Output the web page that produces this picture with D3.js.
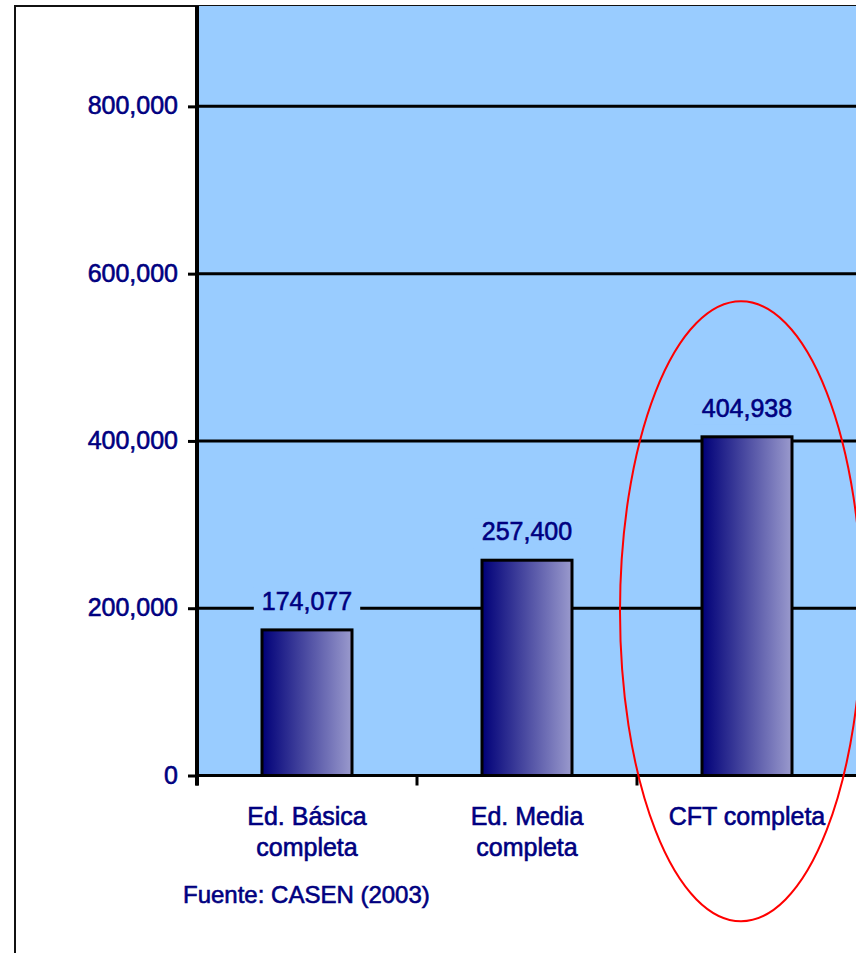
<!DOCTYPE html>
<html>
<head>
<meta charset="utf-8">
<script src="https://cdn.jsdelivr.net/npm/d3@7"></script>
<style>
  body { margin: 0; background: #ffffff; }
  text { font-family: "Liberation Sans", Arial, sans-serif; fill: #000080; stroke: #000080; stroke-width: 0.6px; }
</style>
</head>
<body>
<div id="chart"></div>
<script>
// Data
// ================================
var categories = ["Ed. Básica completa", "Ed. Media completa", "CFT completa"];
var categoryLines = [["Ed. Básica", "completa"], ["Ed. Media", "completa"], ["CFT completa"]];
var values = [174077, 257400, 404938];
var tickValues = [0, 200000, 400000, 600000, 800000];
var sourceNote = "Fuente: CASEN (2003)";

// Set up our chart
// ================================
var svgWidth = 856;
var svgHeight = 953;

var margin = {
  top: 6,
  right: -1,
  bottom: 177.5,
  left: 197,
};

var width = svgWidth - margin.left - margin.right;
var height = svgHeight - margin.top - margin.bottom;

var svg = d3
  .select("#chart")
  .append("svg")
  .attr("width", svgWidth)
  .attr("height", svgHeight);

// bar gradient
var grad = svg
  .append("defs")
  .append("linearGradient")
  .attr("id", "barGrad")
  .attr("x1", "0%")
  .attr("x2", "100%")
  .attr("y1", "0%")
  .attr("y2", "0%");
grad.append("stop").attr("offset", "0%").attr("stop-color", "#000078");
grad.append("stop").attr("offset", "100%").attr("stop-color", "#9a9acd");

// outer frame (left + top)
svg
  .append("path")
  .attr("d", `M15,${svgHeight} L15,6 L${svgWidth},6`)
  .attr("fill", "none")
  .attr("stroke", "#111")
  .attr("stroke-width", 2);

var chartGroup = svg
  .append("g")
  .attr("transform", `translate(${margin.left}, ${margin.top})`);

// scales
var xBandScale = d3
  .scaleBand()
  .domain(categories)
  .range([0, 660])
  .paddingInner(0)
  .paddingOuter(0);

var yLinearScale = d3.scaleLinear().domain([0, 920000]).range([height, 0]);

// plot background
chartGroup
  .append("rect")
  .attr("x", 0)
  .attr("y", 0)
  .attr("width", width)
  .attr("height", height)
  .attr("fill", "#99ccff");

// gridlines
chartGroup
  .selectAll(".grid")
  .data(tickValues.slice(1))
  .enter()
  .append("line")
  .attr("x1", 0)
  .attr("x2", width)
  .attr("y1", (d) => yLinearScale(d))
  .attr("y2", (d) => yLinearScale(d))
  .attr("stroke", "#000")
  .attr("stroke-width", 3);

// bars
var barWidth = 90;
chartGroup
  .selectAll(".bar")
  .data(values)
  .enter()
  .append("rect")
  .attr("class", "bar")
  .attr("x", (d, i) => xBandScale(categories[i]) + (xBandScale.bandwidth() - barWidth) / 2)
  .attr("y", (d) => yLinearScale(d))
  .attr("width", barWidth)
  .attr("height", (d) => height - yLinearScale(d))
  .attr("fill", "url(#barGrad)")
  .attr("stroke", "#000")
  .attr("stroke-width", 3);

// value labels with background boxes
var fmt = d3.format(",");
var labelGroups = chartGroup
  .selectAll(".vlabel")
  .data(values)
  .enter()
  .append("g")
  .attr("class", "vlabel");

labelGroups.each(function (d, i) {
  var g = d3.select(this);
  var cx = xBandScale(categories[i]) + xBandScale.bandwidth() / 2;
  var by = yLinearScale(d) - 20;
  var bg = g.append("rect").attr("fill", "#99ccff");
  var t = g
    .append("text")
    .attr("x", cx)
    .attr("y", by)
    .attr("text-anchor", "middle")
    .style("font-size", "25px")
    .text(fmt(d));
  var w = t.node().getComputedTextLength();
  bg.attr("x", cx - w / 2 - 8)
    .attr("y", by - 22)
    .attr("width", w + 16)
    .attr("height", 30);
});

// y axis
var leftAxis = d3
  .axisLeft(yLinearScale)
  .tickValues(tickValues)
  .tickFormat(fmt)
  .tickSize(9)
  .tickPadding(10);

var yAxis = chartGroup.append("g").call(leftAxis);
yAxis.select(".domain").remove();
yAxis.selectAll(".tick line").attr("stroke", "#000").attr("stroke-width", 3);
yAxis
  .selectAll(".tick text")
  .style("font-size", "25px")
  .style("font-family", "'Liberation Sans', Arial, sans-serif")
  .attr("fill", "#000080")
  .attr("dy", "0.3em");

// y axis line
chartGroup
  .append("line")
  .attr("x1", 0)
  .attr("x2", 0)
  .attr("y1", 0)
  .attr("y2", height + 10)
  .attr("stroke", "#000")
  .attr("stroke-width", 4);

// x axis line + ticks
chartGroup
  .append("line")
  .attr("x1", 0)
  .attr("x2", width)
  .attr("y1", height)
  .attr("y2", height)
  .attr("stroke", "#000")
  .attr("stroke-width", 3);

chartGroup
  .selectAll(".xtick")
  .data(categories)
  .enter()
  .append("line")
  .attr("x1", (d) => xBandScale(d))
  .attr("x2", (d) => xBandScale(d))
  .attr("y1", height)
  .attr("y2", height + 10)
  .attr("stroke", "#000")
  .attr("stroke-width", 3);

// category labels
var catLabels = chartGroup
  .selectAll(".xlabel")
  .data(categories)
  .enter()
  .append("text")
  .attr("text-anchor", "middle")
  .attr("x", (d) => xBandScale(d) + xBandScale.bandwidth() / 2)
  .attr("y", height + 49)
  .style("font-size", "25px");

catLabels
  .selectAll("tspan")
  .data((d, i) => categoryLines[i])
  .enter()
  .append("tspan")
  .attr("x", function () {
    return d3.select(this.parentNode).attr("x");
  })
  .attr("dy", (d, i) => (i === 0 ? 0 : 31))
  .text((d) => d);

// source note
chartGroup
  .append("text")
  .attr("x", -14)
  .attr("y", height + 127)
  .style("font-size", "24px")
  .text(sourceNote);

// red ellipse around the CFT bar
var hl = categories[2];
chartGroup
  .append("ellipse")
  .attr("cx", xBandScale(hl) + xBandScale.bandwidth() / 2 - 6)
  .attr("cy", yLinearScale(200000) + 3)
  .attr("rx", 121)
  .attr("ry", 310)
  .attr("fill", "none")
  .attr("stroke", "#ff0000")
  .attr("stroke-width", 2);
</script>
</body>
</html>
